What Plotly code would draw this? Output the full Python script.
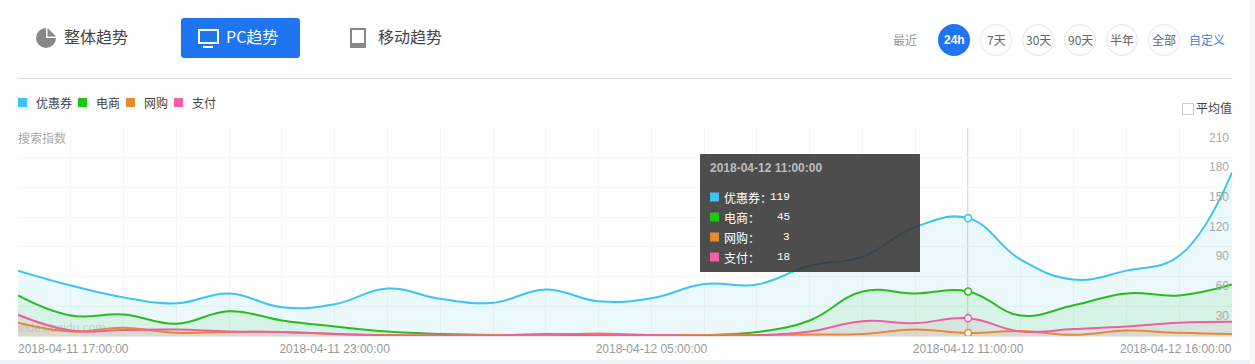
import plotly.graph_objects as go

W, H = 1255, 364
L, R, T, B = 18, 1232, 128, 336

hours = ["2018-04-11 17:00:00", "2018-04-11 18:00:00", "2018-04-11 19:00:00", "2018-04-11 20:00:00",
         "2018-04-11 21:00:00", "2018-04-11 22:00:00", "2018-04-11 23:00:00", "2018-04-12 00:00:00",
         "2018-04-12 01:00:00", "2018-04-12 02:00:00", "2018-04-12 03:00:00", "2018-04-12 04:00:00",
         "2018-04-12 05:00:00", "2018-04-12 06:00:00", "2018-04-12 07:00:00", "2018-04-12 08:00:00",
         "2018-04-12 09:00:00", "2018-04-12 10:00:00", "2018-04-12 11:00:00", "2018-04-12 12:00:00",
         "2018-04-12 13:00:00", "2018-04-12 14:00:00", "2018-04-12 15:00:00", "2018-04-12 16:00:00"]
youhuiquan = [66, 51, 39, 33, 43, 29, 32, 48, 37.5, 33.5, 47, 35, 38, 52.5, 52, 71, 80, 110, 119, 77, 57, 66, 81, 165]
dianshang = [41, 20.7, 21.7, 12.3, 25, 15.7, 9.6, 4.5, 2, 1, 1, 1, 1, 1, 4, 15.7, 45, 43, 45, 20.7, 31, 43, 41, 52]
wanggou = [13.3, 4.5, 8.3, 3.2, 4, 4, 2, 1, 0.5, 1, 1, 2.5, 1, 1, 1, 1.5, 2, 6.5, 3, 5, 1.2, 5.5, 3.2, 2]
zhifu = [21.4, 5.5, 6, 6.5, 4.5, 4, 2, 0.5, 0.5, 0.5, 2, 1, 1, 0.3, 0.5, 4.5, 15, 13, 18, 4.5, 7, 9.6, 13.3, 14.3]

series_names = ["优惠券", "电商", "网购", "支付"]
series_values = [youhuiquan, dianshang, wanggou, zhifu]
colors = ["#3dc4f0", "#2cbb1e", "#e88b30", "#ee5fa0"]
legend_colors = ["#3bc4f5", "#1fc611", "#e88b30", "#f45fa5"]
fills = ["rgba(61,196,240,0.10)", "rgba(44,187,30,0.10)", "rgba(232,139,48,0.10)", "rgba(238,95,160,0.10)"]

y_ticks = [30, 60, 90, 120, 150, 180, 210]
x_tick_labels = ["2018-04-11 17:00:00", "2018-04-11 23:00:00", "2018-04-12 05:00:00",
                 "2018-04-12 11:00:00", "2018-04-12 16:00:00"]
hover_time = "2018-04-12 11:00:00"
hover_i = hours.index(hover_time)
tabs = ["整体趋势", "PC趋势", "移动趋势"]
ranges = ["24h", "7天", "30天", "90天", "半年", "全部"]

CJK = "Noto Sans CJK SC, sans-serif"
SANS = "Liberation Sans, Arial, sans-serif"


def px(x):
    return (x - L) / (R - L)


def py(y):
    return (B - y) / (B - T)


fig = go.Figure()
for name, vals, c, f in zip(series_names, series_values, colors, fills):
    fig.add_trace(go.Scatter(x=hours, y=vals, name=name, mode="lines",
                             line=dict(color=c, width=2, shape="spline", smoothing=1.2),
                             fill="tozeroy", fillcolor=f, hoverinfo="skip"))
for name, vals, c in zip(series_names, series_values, colors):
    fig.add_trace(go.Scatter(x=[hover_time], y=[vals[hover_i]], mode="markers", showlegend=False,
                             marker=dict(size=7, color="white", line=dict(color=c, width=1.6)),
                             hoverinfo="skip"))

shapes = []
ann = []


def text(x, y, s, size=12, color="#333", anchor="left", font=CJK):
    ann.append(dict(xref="paper", yref="paper", x=px(x), y=py(y), text=s, showarrow=False,
                    xanchor=anchor, yanchor="middle", font=dict(size=size, color=color, family=font),
                    borderpad=0, borderwidth=0))


def rect(x0, y0, x1, y1, fill, line=None, layer="above", lw=1):
    shapes.append(dict(type="rect", xref="paper", yref="paper", x0=px(x0), x1=px(x1), y0=py(y0), y1=py(y1),
                       fillcolor=fill, line=dict(color=line or "rgba(0,0,0,0)", width=lw if line else 0), layer=layer))


def path(d, fill=None, line=None, lw=1):
    shapes.append(dict(type="path", xref="paper", yref="paper", path=d, fillcolor=fill or "rgba(0,0,0,0)",
                       line=dict(color=line or "rgba(0,0,0,0)", width=lw if line else 0), layer="above"))


def P(pts, close=True):
    s = "M" + " L".join(f"{px(a):.5f},{py(b):.5f}" for a, b in pts)
    return s + (" Z" if close else "")


def circle(cx, cy, r, fill, line=None, lw=1):
    shapes.append(dict(type="circle", xref="paper", yref="paper", x0=px(cx - r), x1=px(cx + r), y0=py(cy + r), y1=py(cy - r),
                       fillcolor=fill, line=dict(color=line or "rgba(0,0,0,0)", width=lw if line else 0), layer="above"))


# page edge
rect(0, 360, W, H, "#eef3f6")
rect(1250, 0, W, H, "#f6f8fa")
# header rule
rect(18, 78, 1232, 79, "#dcdcdc")

# tabs
circle(46, 38, 10, "#888888")
rect(46, 27, 57, 38, "#ffffff")
path(P([(47.5, 28), (56, 36.5), (47.5, 36.5)]), fill="#888888")
text(64, 36.5, tabs[0], size=16, color="#444")
path(P([(183, 18), (298, 18), (300, 20), (300, 56), (298, 58), (183, 58), (181, 56), (181, 20)]), fill="#1f74f0")
rect(199, 30, 218, 43, "rgba(0,0,0,0)", line="#ffffff", lw=2)
rect(203, 46, 213, 48, "#ffffff")
text(226, 36.5, tabs[1], size=16, color="#ffffff")
rect(350, 28, 366, 48, "#888888")
rect(352, 30, 364, 43, "#ffffff")
text(378, 36.5, tabs[2], size=16, color="#444")

# time range
text(893, 40, "最近", size=12, color="#999")
xs = [954, 996, 1038, 1080, 1122, 1164]
for i, (cx, lab) in enumerate(zip(xs, ranges)):
    if i == 0:
        circle(cx, 40, 16, "#1f74f0")
        text(cx, 40, "<b>" + lab + "</b>", size=12, color="#ffffff", anchor="center", font=SANS)
    else:
        circle(cx, 40, 15.5, "#ffffff", line="#e4e4e4")
        text(cx, 40, lab, size=12, color="#666", anchor="center")
text(1189, 40, "自定义", size=12, color="#4c82c4")

# legend
lx = [18, 78, 126, 174]
tx = [36, 96, 144, 192]
for a, t, c, n in zip(lx, tx, legend_colors, series_names):
    rect(a, 98, a + 9, 107, c)
    text(t, 102, n, size=12, color="#444")

# average checkbox
rect(1182.5, 103.5, 1193.5, 114.5, "#ffffff", line="#cccccc")
text(1196, 108, "平均值", size=12, color="#444")

# axis caption and watermark
text(18, 137.5, "搜索指数", size=12, color="#aaaaaa")
text(18, 328, "index.baidu.com", size=12, color="rgba(150,150,150,0.35)", font=SANS)

# end labels of the x axis
ann.append(dict(xref="x", yref="paper", x=x_tick_labels[0], y=py(348.5), text=x_tick_labels[0], showarrow=False,
                xanchor="left", yanchor="middle", xshift=-1, font=dict(size=12, color="#999", family=SANS), borderpad=0))
ann.append(dict(xref="x", yref="paper", x=x_tick_labels[-1], y=py(348.5), text=x_tick_labels[-1], showarrow=False,
                xanchor="right", yanchor="middle", xshift=1, font=dict(size=12, color="#999", family=SANS), borderpad=0))

# crosshair
shapes.append(dict(type="line", xref="x", yref="paper", x0=hover_time, x1=hover_time, y0=0, y1=1,
                   line=dict(color="#d8d8d8", width=2), layer="below"))

# tooltip
rect(700, 154, 920, 272, "rgba(50,50,50,0.87)")
text(710, 168, "<b>" + hover_time + "</b>", size=12, color="#bdbdbd", font=SANS)
ty = [197, 217, 237, 257]
for y, n, c, v in zip(ty, series_names, legend_colors, [s[hover_i] for s in series_values]):
    rect(710, y - 4.5, 719, y + 4.5, c)
    text(724, y, n + "：", size=12, color="#ffffff")
    text(790.5, y, str(int(v)), size=11, color="#ffffff", anchor="right", font="Liberation Mono, monospace")

fig.update_layout(
    width=W, height=H, autosize=False, showlegend=False,
    margin=dict(l=L, r=W - R, t=T, b=H - B, pad=0),
    paper_bgcolor="white", plot_bgcolor="white",
    shapes=shapes, annotations=ann,
    xaxis=dict(range=[hours[0], hours[-1]], type="date", tickmode="array", tickvals=hours,
               ticktext=[h if h in x_tick_labels[1:-1] else "" for h in hours], automargin=False,
               showgrid=True, gridcolor="#f4f5f6", gridwidth=1, showline=True, linecolor="#e6e6e6",
               ticks="outside", ticklen=2, tickcolor="rgba(0,0,0,0)",
               tickfont=dict(size=12, color="#999", family=SANS), tickangle=0, zeroline=False),
    yaxis=dict(range=[0, 210], tickmode="array", tickvals=y_ticks, side="right", automargin=False,
               ticklabelposition="inside bottom", ticklabelshift=1, tickfont=dict(size=12, color="#aaa", family=SANS),
               showgrid=True, gridcolor="#f4f5f6", gridwidth=1, zeroline=False, ticks="", showline=False),
)

fig.write_html("out.html", config={"displayModeBar": False},
               post_script="document.body.style.margin='0';document.body.style.overflow='hidden';")
